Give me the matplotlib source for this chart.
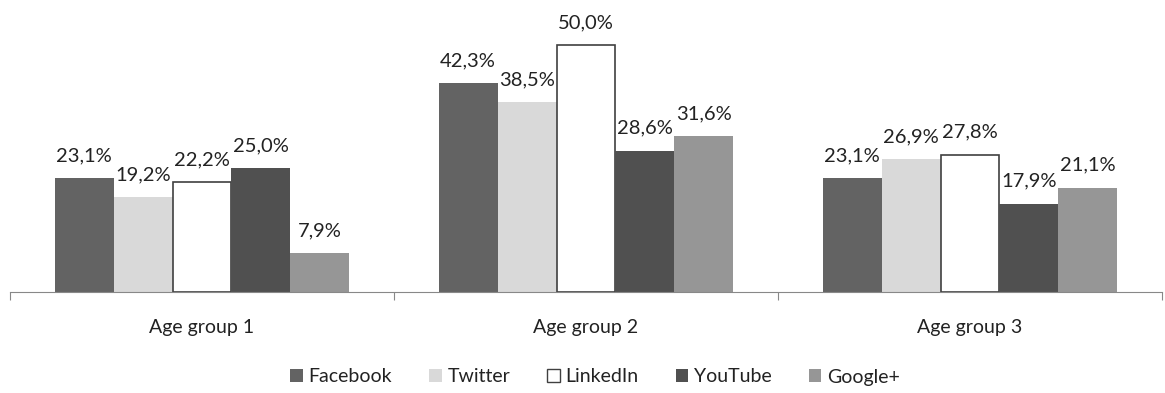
import matplotlib
matplotlib.use("Agg")
import matplotlib.pyplot as plt
import numpy as np
from matplotlib.patches import Patch

plt.rcParams['font.family'] = ['Lato', 'DejaVu Sans']

categories = ["Age group 1", "Age group 2", "Age group 3"]
series = ["Facebook", "Twitter", "LinkedIn", "YouTube", "Google+"]
facebook = [23.1, 42.3, 23.1]
twitter = [19.2, 38.5, 26.9]
linkedin = [22.2, 50.0, 27.8]
youtube = [25.0, 28.6, 17.9]
googleplus = [7.9, 31.6, 21.1]
values = [facebook, twitter, linkedin, youtube, googleplus]

colors = ["#636363", "#d9d9d9", "#ffffff", "#505050", "#969696"]
edges = ["#636363", "#d9d9d9", "#404040", "#505050", "#969696"]

W, H = 1165, 393
fig = plt.figure(figsize=(W / 100, H / 100), dpi=100)
ax = fig.add_axes([10 / W, (H - 292) / H, 1152 / W, 292 / H])

x = np.arange(len(categories))
bw = 0.768 / 5
for i, (name, vals) in enumerate(zip(series, values)):
    pos = x - 0.384 + bw * (i + 0.5)
    lw = 1.2 if name == "LinkedIn" else 0
    ax.bar(pos, vals, width=bw, color=colors[i], edgecolor=edges[i], linewidth=lw, zorder=2)
    for p, v in zip(pos, vals):
        ax.annotate(f"{v:.1f}%".replace(".", ","), (p, v), xytext=(0, 10),
                    textcoords="offset points", ha="center", va="bottom",
                    fontsize=14.5, color="#222222", annotation_clip=False)

ax.set_xlim(-0.5, len(categories) - 0.5)
ax.set_ylim(0, 59.1)
for s in ["top", "right", "left"]:
    ax.spines[s].set_visible(False)
ax.spines["bottom"].set_color("#888888")
ax.set_yticks([])
ax.set_xticks([-0.5, 0.5, 1.5, 2.5])
ax.set_xticklabels([])
ax.tick_params(axis="x", length=6, color="#888888", direction="out")
for xi, c in zip(x, categories):
    ax.text(xi, -0.12, c, transform=ax.get_xaxis_transform(), ha="center", va="center",
            fontsize=14, color="#222222")

handles = [Patch(facecolor=colors[i], edgecolor=edges[i], linewidth=1.0 if series[i] == "LinkedIn" else 0)
           for i in range(5)]
fig.legend(handles, series, loc="center", bbox_to_anchor=(595 / W, 1 - 377 / H), ncol=5,
           frameon=False, fontsize=14, handlelength=0.65, handleheight=0.65,
           handletextpad=0.3, columnspacing=1.9, labelcolor="#222222")

fig.savefig("out.png", dpi=100)
